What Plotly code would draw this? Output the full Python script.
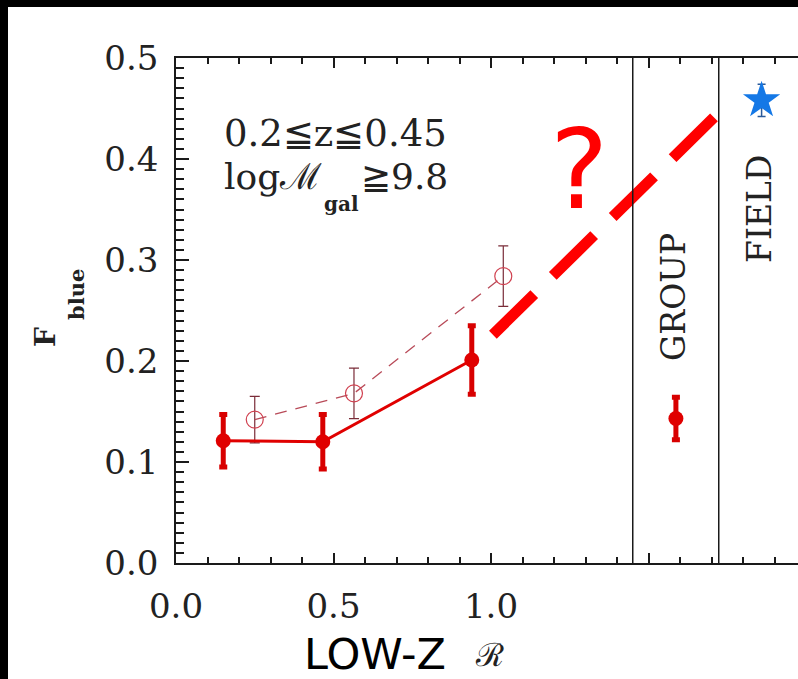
import plotly.graph_objects as go

# ---------------- data ----------------
r_low = [0.150, 0.466, 0.939]
f_low = [0.121, 0.120, 0.201]
e_low = [0.026, 0.027, 0.034]

r_open = [0.250, 0.565, 1.039]
f_open = [0.142, 0.168, 0.284]
e_open = [0.023, 0.025, 0.030]

r_group = [1.587]
f_group = [0.143]
e_group = [0.021]

r_field = [1.859]
f_field = [0.458]
e_field = [0.016]

guess_x = [1.006, 1.717]
guess_y = [0.226, 0.444]

panel_edges = [1.450, 1.723]

x_tickvals = [0.0, 0.5, 1.0, 1.5]
x_ticktext = ["0.0", "0.5", "1.0", ""]

# ---------------- layout geometry ----------------
W, H = 798, 679
L, R, T, B = 176, 0, 58, 116
X_RANGE = [0.0, (W - L - R) / 315.0]
Y_RANGE = [0.0, 0.5]


def pxx(px):
    return (px - L) / (W - L - R)


def pyy(py):
    return (H - B - py) / (H - T - B)


SERIF = "DejaVu Serif"
AX = "#1a1a1a"

fig = go.Figure()

fig.add_trace(go.Scatter(
    x=r_open, y=f_open, mode="lines+markers",
    line=dict(color="#b84a58", width=1.3, dash="12px,9px"),
    marker=dict(symbol="circle-open", size=17, color="#d0404f",
                line=dict(width=1.2, color="#d0404f")),
    error_y=dict(type="data", array=e_open, color="#7a2c38", thickness=1.2, width=5),
    showlegend=False, hoverinfo="skip"))

fig.add_trace(go.Scatter(
    x=r_low, y=f_low, mode="lines+markers",
    line=dict(color="#e00000", width=3),
    marker=dict(symbol="circle", size=15, color="#e00000"),
    error_y=dict(type="data", array=e_low, color="#d80000", thickness=5, width=4),
    showlegend=False, hoverinfo="skip"))

fig.add_trace(go.Scatter(
    x=r_group, y=f_group, mode="markers",
    marker=dict(symbol="circle", size=15, color="#e00000"),
    error_y=dict(type="data", array=e_group, color="#d80000", thickness=5, width=4),
    showlegend=False, hoverinfo="skip"))

fig.add_trace(go.Scatter(
    x=r_field, y=f_field, mode="markers",
    marker=dict(symbol="star", size=28, color="#1478e6"),
    error_y=dict(type="data", array=e_field, color="#2a5a9a", thickness=1.5, width=4),
    showlegend=False, hoverinfo="skip"))

fig.add_trace(go.Scatter(
    x=guess_x, y=guess_y, mode="lines",
    line=dict(color="#ff0000", width=11, dash="58px,26px"),
    showlegend=False, hoverinfo="skip"))

shapes = []
for xe in panel_edges:
    shapes.append(dict(type="line", xref="x", yref="paper", x0=xe, x1=xe, y0=0, y1=1,
                       line=dict(color=AX, width=1.5)))
shapes.append(dict(type="rect", xref="paper", yref="paper",
                   x0=pxx(-5), x1=pxx(W + 5), y0=pyy(7), y1=pyy(-5),
                   fillcolor="black", line=dict(width=0), layer="above"))
shapes.append(dict(type="rect", xref="paper", yref="paper",
                   x0=pxx(-5), x1=pxx(8), y0=pyy(H + 5), y1=pyy(-5),
                   fillcolor="black", line=dict(width=0), layer="above"))

annotations = [
    dict(text="0.2≦z≦0.45", x=pxx(222), y=pyy(133), xanchor="left", yanchor="middle",
         font=dict(family=SERIF, size=37, color="#222")),
    dict(text="logℳ", x=pxx(222), y=pyy(176), xanchor="left", yanchor="middle",
         font=dict(family=SERIF, size=36, color="#222")),
    dict(text="<b>gal</b>", x=pxx(322), y=pyy(204), xanchor="left", yanchor="middle",
         font=dict(family=SERIF, size=20, color="#222")),
    dict(text="≧9.8", x=pxx(359), y=pyy(176), xanchor="left", yanchor="middle",
         font=dict(family=SERIF, size=36, color="#222")),
    dict(text="GROUP", x=pxx(673), y=pyy(297), textangle=-90, xanchor="center", yanchor="middle",
         font=dict(family=SERIF, size=33, color="#222")),
    dict(text="FIELD", x=pxx(759), y=pyy(209), textangle=-90, xanchor="center", yanchor="middle",
         font=dict(family=SERIF, size=33, color="#222")),
    dict(text="?", x=pxx(579), y=pyy(170), xanchor="center", yanchor="middle",
         font=dict(family="DejaVu Sans", size=110, color="#ff0000")),
    dict(text="<b>F</b>", x=pxx(45), y=pyy(337), textangle=-90, xanchor="center", yanchor="middle",
         font=dict(family=SERIF, size=28, color="#222")),
    dict(text="<b>blue</b>", x=pxx(76), y=pyy(295), textangle=-90, xanchor="center", yanchor="middle",
         font=dict(family=SERIF, size=21, color="#222")),
    dict(text="ℛ", x=pxx(489), y=pyy(655), xanchor="center", yanchor="middle",
         font=dict(family=SERIF, size=32, color="#222")),
    dict(text="LOW-Z", x=pxx(375), y=pyy(654), xanchor="center", yanchor="middle",
         font=dict(family="DejaVu Sans", size=43, color="black")),
]
for a in annotations:
    a.update(xref="paper", yref="paper", showarrow=False)

fig.update_layout(
    width=W, height=H,
    margin=dict(l=L, r=R, t=T, b=B, pad=0),
    paper_bgcolor="white", plot_bgcolor="white",
    shapes=shapes, annotations=annotations,
    xaxis=dict(range=X_RANGE, showgrid=False, zeroline=False,
               showline=True, linecolor=AX, linewidth=1.5, mirror="ticks",
               ticks="inside", tickmode="array", tickvals=x_tickvals, ticktext=x_ticktext,
               ticklen=10, tickwidth=2, tickcolor=AX,
               minor=dict(ticks="inside", dtick=0.1, tick0=0, ticklen=6, tickwidth=1.6, tickcolor=AX),
               tickfont=dict(family=SERIF, size=34, color="#222"),
               ticklabelstandoff=12),
    yaxis=dict(range=Y_RANGE, showgrid=False, zeroline=False,
               showline=True, linecolor=AX, linewidth=1.5,
               ticks="inside", dtick=0.1, tick0=0, tickformat=".1f",
               ticklen=13, tickwidth=2, tickcolor=AX,
               minor=dict(ticks="inside", dtick=0.01, ticklen=8, tickwidth=1.6, tickcolor=AX),
               tickfont=dict(family=SERIF, size=34, color="#222"),
               ticklabelstandoff=9),
    yaxis2=dict(overlaying="y", side="right", anchor="x", range=Y_RANGE,
                showgrid=False, zeroline=False, showline=False,
                ticks="inside", dtick=0.1, tick0=0, ticklen=6, tickwidth=2, tickcolor=AX,
                showticklabels=False),
)

fig.write_html("out.html")
